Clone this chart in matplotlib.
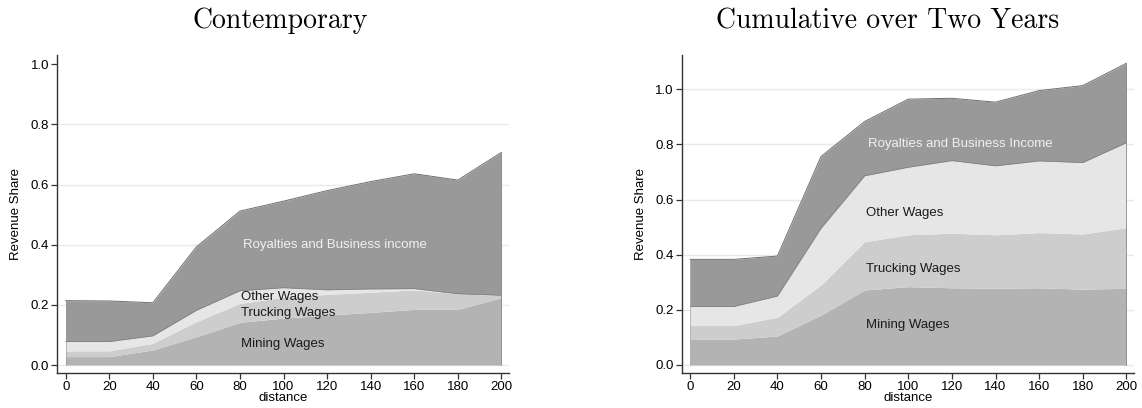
"""Stacked revenue shares by distance: contemporary vs cumulative."""
import numpy as np
import matplotlib
matplotlib.use("Agg")
import matplotlib.pyplot as plt

distance = [0, 20, 40, 60, 80, 100, 120, 140, 160, 180, 200]
layer_names = ["Mining Wages", "Trucking Wages", "Other Wages", "Royalties"]

# contemporary: cumulative boundaries (top of each layer)
cont_mining = [0.028, 0.028, 0.050, 0.094, 0.142, 0.156, 0.166, 0.175, 0.185, 0.185, 0.224]
cont_trucking = [0.047, 0.047, 0.072, 0.144, 0.205, 0.225, 0.235, 0.242, 0.250, 0.237, 0.231]
cont_other = [0.078, 0.078, 0.097, 0.182, 0.247, 0.257, 0.250, 0.253, 0.254, 0.237, 0.232]
cont_total = [0.214, 0.213, 0.207, 0.393, 0.512, 0.545, 0.580, 0.610, 0.636, 0.615, 0.707]

# cumulative over two years
cum_mining = [0.094, 0.094, 0.105, 0.181, 0.272, 0.284, 0.280, 0.278, 0.280, 0.275, 0.278]
cum_trucking = [0.143, 0.143, 0.173, 0.290, 0.447, 0.472, 0.478, 0.472, 0.480, 0.475, 0.498]
cum_other = [0.212, 0.212, 0.250, 0.496, 0.686, 0.717, 0.741, 0.722, 0.740, 0.734, 0.806]
cum_total = [0.383, 0.383, 0.395, 0.756, 0.883, 0.964, 0.967, 0.953, 0.995, 1.013, 1.094]

FILL = ["#b3b3b3", "#cdcdcd", "#e6e6e6", "#999999"]
FONT = "Liberation Sans"


def draw_panel(ax, tops, ylim, grid_levels, labels, label_pos):
    x = np.array(distance)
    lower = np.zeros(len(x))
    for i, top in enumerate(tops):
        top = np.array(top)
        ax.fill_between(x, lower, top, color=FILL[i], linewidth=0, zorder=2)
        lower = top
    # thin darker outlines like the original
    ax.plot(x, tops[-1], color="#6f6f6f", linewidth=0.7, zorder=3)
    ax.plot(x, tops[-2], color="#7f7f7f", linewidth=0.5, zorder=3)
    ax.plot([x[-1], x[-1]], [0, tops[-1][-1]], color="#8a8a8a", linewidth=0.6, zorder=3)
    ax.plot([x[0], x[0]], [0, tops[-1][0]], color="#8a8a8a", linewidth=0.4, zorder=3)

    for g in grid_levels:
        ax.axhline(g, color="#eaeaea", linewidth=1.0, zorder=1)

    for text, (lx, ly), col in zip(labels, label_pos, ["#1a1a1a", "#1a1a1a", "#1a1a1a", "#f0f0f0"]):
        ax.text(lx, ly, text, ha="left", va="center", fontsize=9.5, color=col,
                family=FONT, zorder=4)

    ax.set_xlim(-3.85, 203.5)
    ax.set_ylim(*ylim)
    ax.set_xticks(distance)
    ax.set_xticklabels([str(d) for d in distance], family=FONT, fontsize=9.5)
    yt = np.round(np.arange(0, 1.01, 0.2), 1)
    ax.set_yticks(yt)
    ax.set_yticklabels([f"{v:.1f}" for v in yt], family=FONT, fontsize=9.5)
    for s in ["top", "right"]:
        ax.spines[s].set_visible(False)
    for s in ["left", "bottom"]:
        ax.spines[s].set_color("#333333")
        ax.spines[s].set_linewidth(1.0)
    ax.tick_params(direction="out", length=4, width=0.9, color="#333333", pad=2)
    ax.set_xlabel("distance", family=FONT, fontsize=9.5, labelpad=-1)
    ax.set_ylabel("Revenue Share", family=FONT, fontsize=9.5, labelpad=6)


fig = plt.figure(figsize=(11.42, 4.08), dpi=100)
ax1 = fig.add_axes([0.0502, 0.0865, 0.3955, 0.7787])
ax2 = fig.add_axes([0.597, 0.0865, 0.396, 0.7787])

draw_panel(ax1, [cont_mining, cont_trucking, cont_other, cont_total],
           (-0.0256, 1.031), [0.0, 0.2, 0.4, 0.6, 0.8],
           ["Mining Wages", "Trucking Wages", "Other Wages", "Royalties and Business income"],
           [(80.5, 0.069), (80.5, 0.174), (80.5, 0.227), (81.5, 0.399)])
draw_panel(ax2, [cum_mining, cum_trucking, cum_other, cum_total],
           (-0.028, 1.124), [0.0, 0.2, 0.4, 0.6, 0.8, 1.0],
           ["Mining Wages", "Trucking Wages", "Other Wages", "Royalties and Business Income"],
           [(80.5, 0.145), (80.5, 0.347), (80.5, 0.55), (81.5, 0.80)])

fig.text(280 / 1142, 1 - 21 / 408, "Contemporary", ha="center", va="center",
         family="cmr10", fontsize=20)
fig.text(888 / 1142, 1 - 21 / 408, "Cumulative over Two Years", ha="center", va="center",
         family="cmr10", fontsize=20)

fig.savefig("out.png", dpi=100)
plt.close(fig)
